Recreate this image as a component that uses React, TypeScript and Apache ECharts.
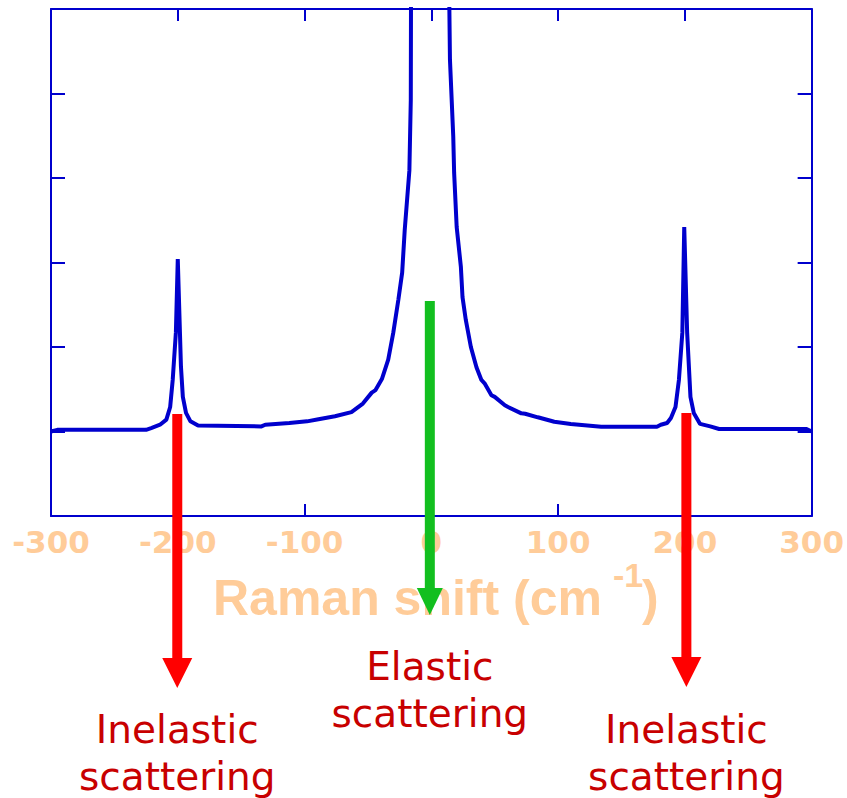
import React, { useEffect, useRef } from "react";
import * as echarts from "echarts";

// Raman shift (cm^-1) and intensity
const ramanShift = [
  -300, -295, -225, -221, -214, -209, -206, -204, -201.5, -200, -197.5, -196, -193.5, -190, -184,
  -134, -131, -112, -98, -89, -76, -63, -54, -47, -44, -39, -34, -30, -26, -23, -21, -17.3, -16.2,
  -16, 0, 14, 14.7, 17.3, 18, 20, 23.3, 24.6, 27.2, 31.2, 35.6, 39.5, 42, 47.4, 50, 58, 60.5, 71,
  74, 84, 97, 110, 134, 178, 181, 186, 189, 192.6, 195.3, 198, 199.5, 201.8, 204.4, 207, 212, 220,
  227, 296, 300,
];
const intensity = [
  1.0, 1.02, 1.02, 1.04, 1.08, 1.14, 1.29, 1.61, 2.17, 3.04, 1.77, 1.41, 1.22, 1.12, 1.07,
  1.06, 1.08, 1.1, 1.12, 1.145, 1.18, 1.23, 1.33, 1.46, 1.49, 1.62, 1.85, 2.17, 2.56, 2.88, 3.38, 4.09, 4.92,
  6.3, 40, 6.3, 5.4, 4.49, 4.06, 3.42, 2.95, 2.59, 2.32, 2.0, 1.76, 1.61, 1.57, 1.43, 1.41, 1.31, 1.29, 1.215,
  1.21, 1.168, 1.116, 1.089, 1.057, 1.057, 1.08, 1.1, 1.16, 1.29, 1.61, 2.17, 3.42, 2.17, 1.41, 1.22, 1.09, 1.06,
  1.03, 1.03, 1.0,
];

const xMin = -300;
const xMax = 300;
const xStep = 100;
const yMin = 0;
const yMax = 6;
const yStep = 1;

const axisTitle = "Raman shift (cm";
const axisTitleSup = "-1";
const axisTitleEnd = ")";

const annotationShift = [-200, 0, 200];
const annotationText = ["Inelastic\nscattering", "Elastic\nscattering", "Inelastic\nscattering"];
const annotationArrowColor = ["#ff0000", "#12bf1f", "#ff0000"];

const BLUE = "#0000cd";
const PEACH = "#ffcc99";

export default function App() {
  const ref = useRef<HTMLDivElement>(null);

  useEffect(() => {
    if (!ref.current) return;
    const chart = echarts.init(ref.current, undefined, { renderer: "svg" });

    const data = ramanShift.map((x, i) => [x, intensity[i]]);

    const axisCommon = {
      type: "value" as const,
      axisLine: { show: true, onZero: false, lineStyle: { color: BLUE, width: 2 } },
      splitLine: { show: false },
    };

    chart.setOption({
      animation: false,
      backgroundColor: "#ffffff",
      grid: { left: 51, right: 31, top: 9, bottom: 282, containLabel: false },
      xAxis: [
        {
          ...axisCommon,
          position: "bottom",
          min: xMin,
          max: xMax,
          interval: xStep,
          axisTick: { show: true, inside: true, length: 12, lineStyle: { color: BLUE, width: 2 } },
          axisLabel: {
            show: true,
            margin: 10,
            color: PEACH,
            fontFamily: "DejaVu Sans",
            fontWeight: "bold",
            fontSize: 31,
            showMinLabel: true,
            showMaxLabel: true,
          },
        },
        {
          ...axisCommon,
          position: "top",
          min: xMin,
          max: xMax,
          interval: xStep,
          axisTick: { show: true, inside: true, length: 12, lineStyle: { color: BLUE, width: 2 } },
          axisLabel: { show: false },
        },
      ],
      yAxis: [
        {
          ...axisCommon,
          position: "left",
          min: yMin,
          max: yMax,
          interval: yStep,
          axisTick: { show: true, inside: true, length: 14, lineStyle: { color: BLUE, width: 2 } },
          axisLabel: { show: false },
        },
        {
          ...axisCommon,
          position: "right",
          min: yMin,
          max: yMax,
          interval: yStep,
          axisTick: { show: true, inside: true, length: 14, lineStyle: { color: BLUE, width: 2 } },
          axisLabel: { show: false },
        },
      ],
      series: [
        {
          type: "line",
          xAxisIndex: 0,
          yAxisIndex: 0,
          data,
          showSymbol: false,
          symbol: "none",
          clip: true,
          lineStyle: { color: BLUE, width: 4 },
          z: 3,
        },
      ],
    });

    // Annotation arrows & labels positioned from the x-axis scale
    const arrowGeom = [
      { top: 414, headTop: 658, tip: 688, half: 15, dx: -0.5 },
      { top: 301, headTop: 588, tip: 615, half: 13, dx: -1.5 },
      { top: 413, headTop: 657, tip: 687, half: 15, dx: 1.5 },
    ];
    const labelTop = [706, 643, 706];

    const graphics: any[] = [
      {
        type: "text",
        z: 50,
        x: 213,
        y: 598,
        style: {
          text: axisTitle,
          fill: PEACH,
          fontFamily: "Liberation Sans",
          fontWeight: "bold",
          fontSize: 50,
          align: "left",
          verticalAlign: "middle",
        },
      },
      {
        type: "text",
        z: 50,
        x: 613,
        y: 575,
        style: {
          text: axisTitleSup,
          fill: PEACH,
          fontFamily: "Liberation Sans",
          fontWeight: "bold",
          fontSize: 34,
          align: "left",
          verticalAlign: "middle",
        },
      },
      {
        type: "text",
        z: 50,
        x: 642,
        y: 598,
        style: {
          text: axisTitleEnd,
          fill: PEACH,
          fontFamily: "Liberation Sans",
          fontWeight: "bold",
          fontSize: 50,
          align: "left",
          verticalAlign: "middle",
        },
      },
    ];

    annotationShift.forEach((shift, i) => {
      const g = arrowGeom[i];
      const px = (chart.convertToPixel({ xAxisIndex: 0 }, shift) as number) + g.dx;
      const color = annotationArrowColor[i];
      graphics.push({
        type: "rect",
        z: 100,
        shape: { x: px - 5, y: g.top, width: 10, height: g.headTop - g.top + 1 },
        style: { fill: color },
      });
      graphics.push({
        type: "polygon",
        z: 100,
        shape: {
          points: [
            [px - g.half, g.headTop],
            [px + g.half, g.headTop],
            [px, g.tip],
          ],
        },
        style: { fill: color },
      });
      graphics.push({
        type: "text",
        z: 100,
        x: px,
        y: labelTop[i],
        style: {
          text: annotationText[i],
          fill: "#c80000",
          fontFamily: "DejaVu Sans",
          fontSize: 39,
          lineHeight: 47,
          align: "center",
          verticalAlign: "top",
        },
      });
    });

    chart.setOption({ graphic: graphics });

    return () => {
      chart.dispose();
    };
  }, []);

  return (
    <div
      ref={ref}
      style={{ position: "fixed", left: 0, top: 0, width: 847, height: 798, background: "#fff" }}
    />
  );
}
